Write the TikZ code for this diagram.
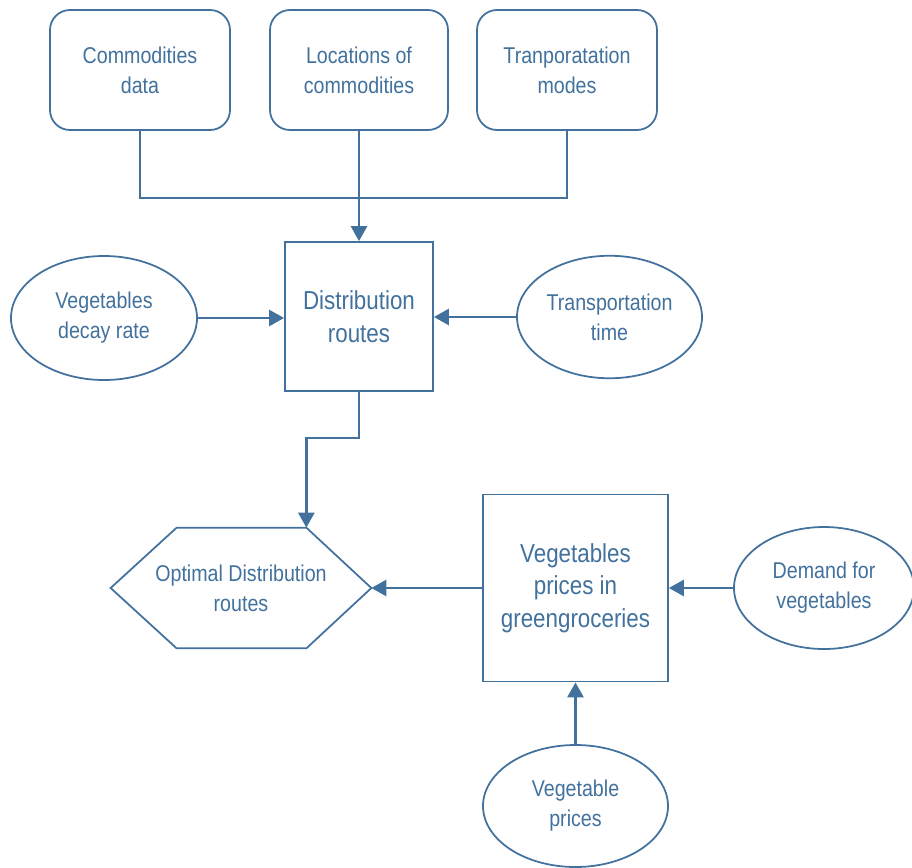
\documentclass[tikz,border=0pt]{standalone}
\usepackage{fontspec}
\setmainfont{Liberation Sans}[FakeStretch=0.86]
\usetikzlibrary{arrows.meta, calc, shapes.geometric}
\definecolor{flowblue}{RGB}{65,113,156}

\begin{document}
\begin{tikzpicture}[
            % ----- Styles -----
                src/.style={
                    rectangle, rounded corners=0.4cm, draw=flowblue, line width=1pt,
                    minimum width=3.6cm, minimum height=2.4cm, text=flowblue,
                    font=\fontsize{13}{17}\selectfont, align=center
                },
                proc/.style={
                    rectangle, draw=flowblue, line width=1pt, text=flowblue,
                    font=\fontsize{14.8}{18.6}\selectfont, align=center
                },
                fac/.style={
                    ellipse, draw=flowblue, line width=1pt, inner sep=0pt,
                    minimum width=3.7cm, minimum height=2.45cm, text=flowblue,
                    font=\fontsize{13}{17}\selectfont, align=center
                },
                flow/.style={draw=flowblue, line width=1.5pt},
                arr/.style={flow, -{Triangle[length=0.3cm, width=0.32cm]}}
            ]

% ===================== Rahmen ==================================
                \useasboundingbox (0, 0) rectangle (18.24, -17.34);

% ===================== Eingangsdaten (oben) ====================
                \node[src] (com) at (2.8,   -1.4)   {Commodities\\data};
                \node[src, minimum width=3.56cm] (loc) at (7.18, -1.4) {Locations of\\commodities};
                \node[src] (tra) at (11.34, -1.4)   {Tranporatation\\modes};

% ===================== Verteilungsrouten =======================
                \node[proc, minimum width=2.96cm, minimum height=2.98cm] (dist)
                at (7.18, -6.33) {Distribution\\routes};

                \node[fac, minimum width=3.72cm, minimum height=2.48cm] (decay)
                at (2.08, -6.36) {Vegetables\\decay rate};
                \node[fac] (ttime) at (12.19, -6.34) {Transportation\\time};

% ===================== Optimale Routen (Sechseck) ==============
                \node[rectangle, minimum width=5.2cm, minimum height=2.4cm,
                      text=flowblue, font=\fontsize{13}{17}\selectfont, align=center]
                (opt) at (4.82, -11.76) {Optimal Distribution\\routes};
                \coordinate (optNW) at ($(opt.north west)+(1.32, 0)$);
                \coordinate (optNE) at ($(opt.north east)+(-1.3, 0)$);
                \coordinate (optSW) at ($(opt.south west)+(1.32, 0)$);
                \coordinate (optSE) at ($(opt.south east)+(-1.3, 0)$);
                \draw[flowblue, line width=1pt]
                (opt.west) -- (optNW) -- (optNE) -- (opt.east)
                -- (optSE) -- (optSW) -- cycle;

% ===================== Gemuesepreise ===========================
                \node[proc, minimum width=3.7cm, minimum height=3.74cm] (vpg)
                at (11.51, -11.76) {Vegetables\\prices in\\greengroceries};

                \node[fac, minimum width=3.6cm, minimum height=2.44cm] (dem)
                at (16.48, -11.76) {Demand for\\vegetables};
                \node[fac, minimum height=2.44cm] (vp)
                at (11.51, -16.12) {Vegetable\\prices};

% ===================== Verbindungen ============================
                \draw[flow] (com.south) -- ++(0, -1.34) -| (tra.south);
                \draw[arr]  (loc.south) -- (dist.north);

                \draw[arr] (decay.east) -- (decay.east -| dist.west);
                \draw[arr] (ttime.west) -- (ttime.west -| dist.east);

                \draw[arr] (dist.south) -- ++(0, -0.92) -| (optNE);

                \draw[arr] (vpg.west) -- (opt.east);
                \draw[arr] (dem.west) -- (vpg.east);
                \draw[arr] (vp.north) -- (vpg.south);

            \end{tikzpicture}
\end{document}
